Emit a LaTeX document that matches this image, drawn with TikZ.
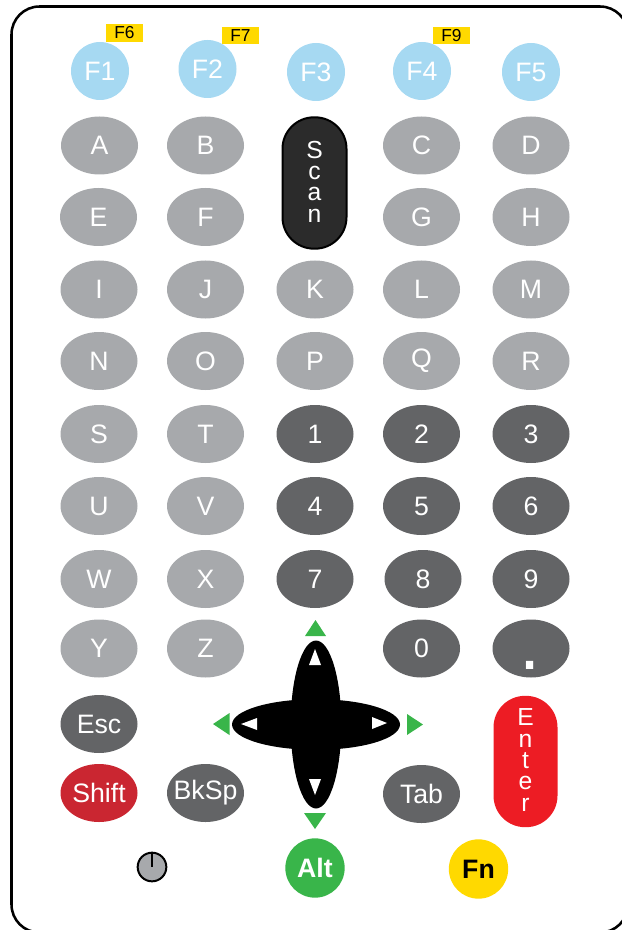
\documentclass[tikz,border=0pt]{standalone}
\usepackage{fontspec}
\setmainfont{Liberation Sans}
\usetikzlibrary{shapes.geometric}
\definecolor{keylight}{HTML}{A7A9AC}
\definecolor{keydark}{HTML}{636466}
\definecolor{keyblue}{HTML}{A6D9F2}
\definecolor{keyscan}{HTML}{2B2B2B}
\definecolor{keyshift}{HTML}{CA2631}
\definecolor{keyenter}{HTML}{ED1C24}
\definecolor{keygreen}{HTML}{39B54A}
\definecolor{keyyellow}{HTML}{FFD900}

\begin{document}
\begin{tikzpicture}[
  x=.75pt, y=-.75pt,
  keybase/.style={ellipse, inner sep=0pt, text=white, font=\fontsize{20}{22}\selectfont, minimum width=57.75pt, minimum height=43.5pt},
  letterkey/.style={keybase, fill=keylight},
  darkkey/.style={keybase, fill=keydark},
  fkey/.style={circle, inner sep=0pt, text=white, fill=keyblue, font=\fontsize{20}{22}\selectfont, minimum size=43.5pt},
  shiftkey/.style={keybase, fill=keyshift},
  tallkey/.style={rectangle, inner sep=0pt, text=white, align=center, font=\fontsize{18.5}{16}\selectfont, text depth=2.2pt, minimum width=48pt, minimum height=98.5pt, rounded corners=23.6pt},
  tag/.style={rectangle, inner sep=0pt, fill=keyyellow, font=\fontsize{13}{14}\selectfont, minimum width=27.75pt, minimum height=13pt},
  modkey/.style={circle, inner sep=0pt, font=\fontsize{20}{22}\selectfont\bfseries, minimum size=44.5pt},
  padarm/.style={ellipse, fill=black, inner sep=0pt},
  greentip/.style={fill=keygreen},
  whitetip/.style={fill=white}]
\useasboundingbox (0,0) rectangle (621,930);
\draw[line width=1.9pt, rounded corners=21pt] (11.5,6.5) rectangle (628,932.5);
% function row
\node[fkey] (f1) at (100,71) {F1};
\node[fkey] (f2) at (207.5,69) {F2};
\node[fkey] (f3) at (316,72) {F3};
\node[fkey] (f4) at (422,71) {F4};
\node[fkey] (f5) at (531,72) {F5};
\node[tag] (f6) at (124.5,33) {F6};
\node[tag] (f7) at (240.5,35.5) {F7};
\node[tag] (f9) at (451.5,35.5) {F9};
% letters
\node[letterkey] (a) at (99.5,145.5) {A};
\node[letterkey] (b) at (205.5,145.5) {B};
\node[letterkey] (c) at (421.5,145.5) {C};
\node[letterkey] (d) at (531,145.5) {D};
\node[letterkey] (e) at (98.5,217) {E};
\node[letterkey] (f) at (205.5,217) {F};
\node[letterkey] (g) at (421.5,217) {G};
\node[letterkey] (h) at (531,217) {H};
\node[letterkey] (i) at (99,289.5) {I};
\node[letterkey] (j) at (205.5,289.5) {J};
\node[letterkey] (k) at (315,289.5) {K};
\node[letterkey] (l) at (421.5,289.5) {L};
\node[letterkey] (m) at (531,289.5) {M};
\node[letterkey] (n) at (99,361) {N};
\node[letterkey] (o) at (205.5,361) {O};
\node[letterkey] (p) at (315,361) {P};
\node[letterkey] (q) at (421.5,361) {Q};
\node[letterkey] (r) at (531,361) {R};
\node[letterkey] (s) at (99,434) {S};
\node[letterkey] (t) at (205.5,434) {T};
\node[letterkey] (u) at (99,506) {U};
\node[letterkey] (v) at (205.5,506) {V};
\node[letterkey] (w) at (99,579) {W};
\node[letterkey] (x) at (205.5,579) {X};
\node[letterkey] (y) at (99,648.5) {Y};
\node[letterkey] (z) at (205.5,648.5) {Z};
% digits
\node[darkkey] (n1) at (315,434) {1};
\node[darkkey] (n2) at (421.5,434) {2};
\node[darkkey] (n3) at (531,434) {3};
\node[darkkey] (n4) at (315,506) {4};
\node[darkkey] (n5) at (421.5,506) {5};
\node[darkkey] (n6) at (531,506) {6};
\node[darkkey] (n7) at (315,579) {7};
\node[darkkey] (n8) at (423,579) {8};
\node[darkkey] (n9) at (531,579) {9};
\node[darkkey] (n0) at (421.5,648.5) {0};
\node[darkkey] (dot) at (531,648.5) {};
\node[anchor=base, inner sep=0pt, text=white, font=\fontsize{57}{57}\selectfont] (dotmark) at (530.5,669) {.};
% control keys
\node[darkkey, inner xsep=-6pt] (esc) at (99,724) {Esc};
\node[shiftkey, inner xsep=-6pt] (shift) at (99,793) {Shift};
\node[darkkey, inner xsep=-12pt] (bksp) at (205.5,793) {BkSp};
\node[darkkey, inner xsep=-6pt] (tab) at (421.5,794) {Tab};
\node[tallkey, draw=black, line width=1.5pt, fill=keyscan] (scan) at (314.5,183) {S\\c\\a\\n};
\node[tallkey, fill=keyenter] (enter) at (525.5,761.5) {E\\n\\t\\e\\r};
\node[modkey, fill=keygreen, text=white] (alt) at (315,868) {Alt};
\node[modkey, fill=keyyellow, text=black] (fn) at (478.5,869) {Fn};
% power
\node[circle, draw=black, line width=1.5pt, fill=keylight, inner sep=0pt, minimum size=21.5pt] (power) at (152,867) {};
\draw[line width=1.5pt] (power.north) -- (power.center);
% navigation pad
\node[padarm, minimum width=38pt, minimum height=126pt] (padv) at (316,724.5) {};
\node[padarm, minimum width=126pt, minimum height=38pt] (padh) at (316,724.5) {};
\fill[greentip] (315.5,620) -- (326,636) -- (305,636) -- cycle;
\fill[greentip] (315,829) -- (304,813) -- (326,813) -- cycle;
\fill[greentip] (213,724) -- (229.5,713) -- (229.5,735) -- cycle;
\fill[greentip] (423,724.5) -- (407,714) -- (407,735) -- cycle;
\fill[whitetip] (315,649) -- (321,665) -- (309,665) -- cycle;
\fill[whitetip] (315,795) -- (309,779) -- (321,779) -- cycle;
\fill[whitetip] (241,724) -- (257,718) -- (257,730) -- cycle;
\fill[whitetip] (387,723) -- (372,717) -- (372,729) -- cycle;
\end{tikzpicture}
\end{document}
